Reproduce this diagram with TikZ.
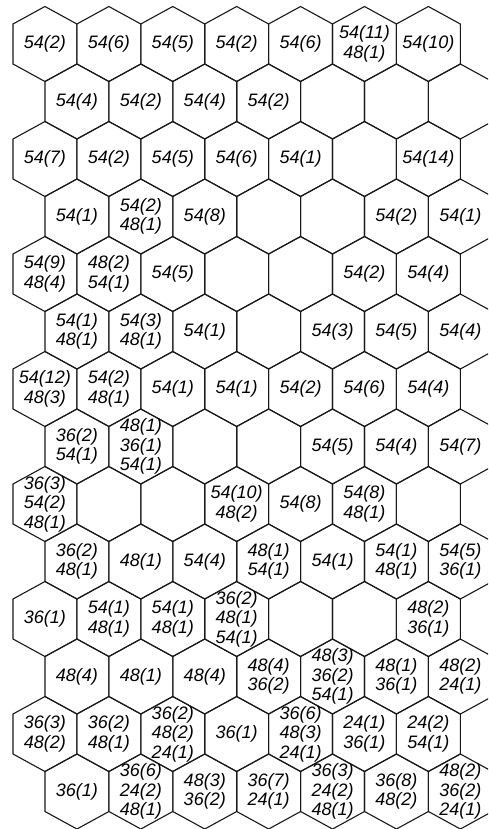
\documentclass[tikz,border=0pt]{standalone}
\usepackage{fontspec}
\setmainfont{Liberation Sans}
\tikzset{
  hexline/.style={draw=black!90, line width=1.1pt, line join=miter},
  cell/.style={font=\fontsize{18}{19.5}\selectfont\itshape, align=center, inner sep=0pt, text=black}
}
\newcommand\hexlabel[3]{%
  \pgfmathsetmacro{\hxx}{44.95+63.9*(#2-1)+32*(1-mod(#1,2))}%
  \pgfmathsetmacro{\hyy}{44+57.5*(#1-1)}%
  \node[cell] (h-#1-#2) at (\hxx,\hyy) {#3};%
}
\begin{document}
\begin{tikzpicture}[x=1pt,y=-1pt]
\useasboundingbox (0,0) rectangle (488,829);
\fill[white] (0,0) rectangle (488,829);
\clip (0,0) rectangle (488,829);
% hexagon grid
\foreach \r in {1,...,14}{
  \foreach \c in {1,...,7}{
    \pgfmathsetmacro{\hx}{44.95+63.9*(\c-1)+32*(1-mod(\r,2))}
    \pgfmathsetmacro{\hy}{44+57.5*(\r-1)}
    \draw[hexline] (\hx,\hy) ++(0,-37.5) -- ++(31.95,17.5) -- ++(0,40)
      -- ++(-31.95,17.5) -- ++(-31.95,-17.5) -- ++(0,-40) -- cycle;
  }
}
% labels
\hexlabel{1}{1}{54(2)} \hexlabel{1}{2}{54(6)} \hexlabel{1}{3}{54(5)} \hexlabel{1}{4}{54(2)}
\hexlabel{1}{5}{54(6)} \hexlabel{1}{6}{54(11)\\48(1)} \hexlabel{1}{7}{54(10)}
\hexlabel{2}{1}{54(4)} \hexlabel{2}{2}{54(2)} \hexlabel{2}{3}{54(4)} \hexlabel{2}{4}{54(2)}
\hexlabel{3}{1}{54(7)} \hexlabel{3}{2}{54(2)} \hexlabel{3}{3}{54(5)} \hexlabel{3}{4}{54(6)}
\hexlabel{3}{5}{54(1)} \hexlabel{3}{7}{54(14)}
\hexlabel{4}{1}{54(1)} \hexlabel{4}{2}{54(2)\\48(1)} \hexlabel{4}{3}{54(8)} \hexlabel{4}{6}{54(2)} \hexlabel{4}{7}{54(1)}
\hexlabel{5}{1}{54(9)\\48(4)} \hexlabel{5}{2}{48(2)\\54(1)} \hexlabel{5}{3}{54(5)} \hexlabel{5}{6}{54(2)} \hexlabel{5}{7}{54(4)}
\hexlabel{6}{1}{54(1)\\48(1)} \hexlabel{6}{2}{54(3)\\48(1)} \hexlabel{6}{3}{54(1)} \hexlabel{6}{5}{54(3)}
\hexlabel{6}{6}{54(5)} \hexlabel{6}{7}{54(4)}
\hexlabel{7}{1}{54(12)\\48(3)} \hexlabel{7}{2}{54(2)\\48(1)} \hexlabel{7}{3}{54(1)} \hexlabel{7}{4}{54(1)}
\hexlabel{7}{5}{54(2)} \hexlabel{7}{6}{54(6)} \hexlabel{7}{7}{54(4)}
\hexlabel{8}{1}{36(2)\\54(1)} \hexlabel{8}{2}{48(1)\\36(1)\\54(1)} \hexlabel{8}{5}{54(5)} \hexlabel{8}{6}{54(4)} \hexlabel{8}{7}{54(7)}
\hexlabel{9}{1}{36(3)\\54(2)\\48(1)} \hexlabel{9}{4}{54(10)\\48(2)} \hexlabel{9}{5}{54(8)} \hexlabel{9}{6}{54(8)\\48(1)}
\hexlabel{10}{1}{36(2)\\48(1)} \hexlabel{10}{2}{48(1)} \hexlabel{10}{3}{54(4)} \hexlabel{10}{4}{48(1)\\54(1)}
\hexlabel{10}{5}{54(1)} \hexlabel{10}{6}{54(1)\\48(1)} \hexlabel{10}{7}{54(5)\\36(1)}
\hexlabel{11}{1}{36(1)} \hexlabel{11}{2}{54(1)\\48(1)} \hexlabel{11}{3}{54(1)\\48(1)} \hexlabel{11}{4}{36(2)\\48(1)\\54(1)}
\hexlabel{11}{7}{48(2)\\36(1)}
\hexlabel{12}{1}{48(4)} \hexlabel{12}{2}{48(1)} \hexlabel{12}{3}{48(4)} \hexlabel{12}{4}{48(4)\\36(2)}
\hexlabel{12}{5}{48(3)\\36(2)\\54(1)} \hexlabel{12}{6}{48(1)\\36(1)} \hexlabel{12}{7}{48(2)\\24(1)}
\hexlabel{13}{1}{36(3)\\48(2)} \hexlabel{13}{2}{36(2)\\48(1)} \hexlabel{13}{3}{36(2)\\48(2)\\24(1)} \hexlabel{13}{4}{36(1)}
\hexlabel{13}{5}{36(6)\\48(3)\\24(1)} \hexlabel{13}{6}{24(1)\\36(1)} \hexlabel{13}{7}{24(2)\\54(1)}
\hexlabel{14}{1}{36(1)} \hexlabel{14}{2}{36(6)\\24(2)\\48(1)} \hexlabel{14}{3}{48(3)\\36(2)} \hexlabel{14}{4}{36(7)\\24(1)}
\hexlabel{14}{5}{36(3)\\24(2)\\48(1)} \hexlabel{14}{6}{36(8)\\48(2)} \hexlabel{14}{7}{48(2)\\36(2)\\24(1)}
\end{tikzpicture}
\end{document}
